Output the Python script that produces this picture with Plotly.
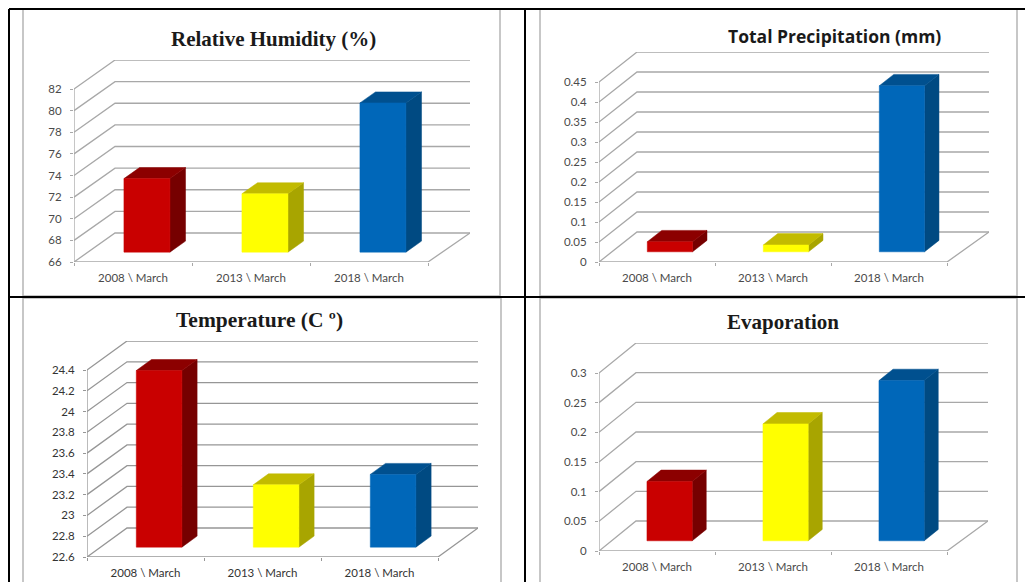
import plotly.graph_objects as go

WIDTH, HEIGHT = 1025, 582

# Chart data
YEARS = ["2008 \\ March", "2013 \\ March", "2018 \\ March"]
HUMIDITY = [72.8, 71.4, 79.8]
HUMIDITY_TICKS = [66, 68, 70, 72, 74, 76, 78, 80, 82]
PRECIPITATION = [0.025, 0.017, 0.415]
PRECIPITATION_TICKS = [0, 0.05, 0.1, 0.15, 0.2, 0.25, 0.3, 0.35, 0.4, 0.45]
TEMPERATURE = [24.3, 23.2, 23.3]
TEMPERATURE_TICKS = [22.6, 22.8, 23, 23.2, 23.4, 23.6, 23.8, 24, 24.2, 24.4]
EVAPORATION = [0.1, 0.197, 0.27]
EVAPORATION_TICKS = [0, 0.05, 0.1, 0.15, 0.2, 0.25, 0.3]

# Face colours of each bar: front, top, side
BAR_FACES = [
    ("#c90000", "#8c0000", "#760000"),
    ("#ffff00", "#c2bb00", "#a8a500"),
    ("#0067b9", "#00508f", "#004a82"),
]
GRID = "#a8a8a8"
TEXT = "#4a4a4a"

# Oblique projection of the floor, as a share of the depth
BAR_DEPTH_START = 0.34
BAR_DEPTH_END = 0.72
BAR_WIDTH = 0.39

PANELS = [
    dict(title="Relative Humidity (%)", values=HUMIDITY, ticks=HUMIDITY_TICKS,
         left=74, front=428, back=470, base=262, top=89, dx=41, dy=29,
         frame=(23, 9, 500, 296), title_xy=(273, 39), title_font="Liberation Serif", title_size=21,
         text=TEXT, grid=GRID),
    dict(title="Total Precipitation (mm)", values=PRECIPITATION, ticks=PRECIPITATION_TICKS,
         left=599, front=947, back=989, base=262, top=82, dx=38, dy=30,
         frame=(540, 9, 1017, 296), title_xy=(834, 36), title_font="Open Sans", title_size=17.5,
         text=TEXT, grid=GRID),
    dict(title="Temperature (C \u00ba)", values=TEMPERATURE, ticks=TEMPERATURE_TICKS,
         left=87, front=438, back=478, base=557, top=370, dx=40, dy=29,
         frame=(23, 298, 501, 590), title_xy=(259, 320), title_font="Liberation Serif", title_size=21.5,
         text="#333333", grid="#969696"),
    dict(title="Evaporation", values=EVAPORATION, ticks=EVAPORATION_TICKS,
         left=599, front=947, back=988, base=551, top=373, dx=37, dy=30,
         frame=(540, 298, 1017, 590), title_xy=(783, 322), title_font="Liberation Serif", title_size=21,
         text=TEXT, grid=GRID),
]


def px_x(x):
    return x / WIDTH


def px_y(y):
    return 1 - y / HEIGHT


def polygon(xs, ys, color, xref, yref):
    return go.Scatter(x=xs + xs[:1], y=ys + ys[:1], mode="lines", fill="toself",
                      fillcolor=color, line=dict(color=color, width=0.5),
                      xaxis=xref, yaxis=yref, hoverinfo="skip", showlegend=False)


fig = go.Figure()
layout = {}
shapes = []
annotations = []

for i, p in enumerate(PANELS, start=1):
    suffix = "" if i == 1 else str(i)
    xref, yref = f"x{suffix}", f"y{suffix}"
    ticks = p["ticks"]
    ymin, ymax = ticks[0], ticks[-1]

    cat_px = (p["front"] - p["left"]) / len(YEARS)
    val_px = (p["base"] - p["top"]) / (ymax - ymin)
    depth_x = p["dx"] / cat_px
    depth_y = p["dy"] / val_px
    xend = (p["back"] - p["left"]) / cat_px
    yend = ymax + depth_y
    ncat = len(YEARS)

    # Walls and floor: each gridline runs back along the side wall, then across the rear wall
    gx, gy = [], []
    for v in ticks:
        gx += [0, depth_x, xend, None]
        gy += [v, v + depth_y, v + depth_y, None]
    gx += [0, ncat, xend, None, 0, 0]
    gy += [ymin, ymin, ymin + depth_y, None, ymin, ymax]
    fig.add_trace(go.Scatter(x=gx, y=gy, mode="lines", line=dict(color=p["grid"], width=1.3),
                             xaxis=xref, yaxis=yref, hoverinfo="skip", showlegend=False,
                             cliponaxis=False))

    # Bars as three projected faces
    for c, (value, faces) in enumerate(zip(p["values"], BAR_FACES)):
        front_c, top_c, side_c = faces
        x0 = c + 0.5 - BAR_WIDTH / 2 + BAR_DEPTH_START * depth_x
        x1 = x0 + BAR_WIDTH
        y0 = ymin + BAR_DEPTH_START * depth_y
        y1 = y0 + (value - ymin)
        ox = (BAR_DEPTH_END - BAR_DEPTH_START) * depth_x
        oy = (BAR_DEPTH_END - BAR_DEPTH_START) * depth_y
        fig.add_trace(polygon([x1, x1 + ox, x1 + ox, x1], [y0, y0 + oy, y1 + oy, y1], side_c, xref, yref))
        fig.add_trace(polygon([x0, x1, x1 + ox, x0 + ox], [y1, y1, y1 + oy, y1 + oy], top_c, xref, yref))
        fig.add_trace(polygon([x0, x1, x1, x0], [y0, y0, y1, y1], front_c, xref, yref))

    layout[f"xaxis{suffix}"] = dict(
        domain=[px_x(p["left"]), px_x(p["back"])], range=[0, xend], anchor=yref, automargin=False,
        tickmode="array", tickvals=[k + 0.5 for k in range(ncat)], ticktext=YEARS,
        ticks="", ticklabelstandoff=7, showgrid=False, zeroline=False, showline=False,
        tickfont=dict(family="Lato", size=11.5, color=p["text"]),
        minor=dict(tickmode="array", tickvals=list(range(ncat + 1)), ticks="outside",
                   ticklen=3, tickcolor=p["grid"], tickwidth=1, showgrid=False),
    )
    layout[f"yaxis{suffix}"] = dict(
        domain=[px_y(p["base"]), px_y(p["top"] - p["dy"])], range=[ymin, yend], anchor=xref, automargin=False,
        tickmode="array", tickvals=ticks, ticktext=[str(t) for t in ticks],
        ticks="outside", ticklen=3, tickcolor=p["grid"], tickwidth=1, ticklabelstandoff=6,
        showgrid=False, zeroline=False, showline=False,
        tickfont=dict(family="Lato", size=11.5, color=p["text"]),
    )

    x0, y0, x1, y1 = p["frame"]
    shapes.append(dict(type="rect", xref="paper", yref="paper", layer="below",
                       x0=px_x(x0), x1=px_x(x1), y0=px_y(y0), y1=px_y(y1),
                       line=dict(color="#b5b5b5", width=1.5), fillcolor="white"))
    annotations.append(dict(text=f"<b>{p['title']}</b>", xref="paper", yref="paper",
                            x=px_x(p["title_xy"][0]), y=px_y(p["title_xy"][1]),
                            xanchor="center", yanchor="middle", showarrow=False,
                            font=dict(family=p["title_font"], size=p["title_size"], color="#1a1a1a")))

# Black table rules around the four cells
for x0, y0, x1, y1 in [(9, 9, 1025, 9), (9, 297, 1025, 297), (9, 9, 9, 582), (525, 9, 525, 582)]:
    shapes.append(dict(type="line", xref="paper", yref="paper", layer="above",
                       x0=px_x(x0), x1=px_x(x1), y0=px_y(y0), y1=px_y(y1),
                       line=dict(color="black", width=2)))

fig.update_layout(width=WIDTH, height=HEIGHT, margin=dict(l=0, r=0, t=0, b=0),
                  paper_bgcolor="white", plot_bgcolor="rgba(0,0,0,0)",
                  showlegend=False, shapes=shapes, annotations=annotations, **layout)

fig.write_html("out.html")
